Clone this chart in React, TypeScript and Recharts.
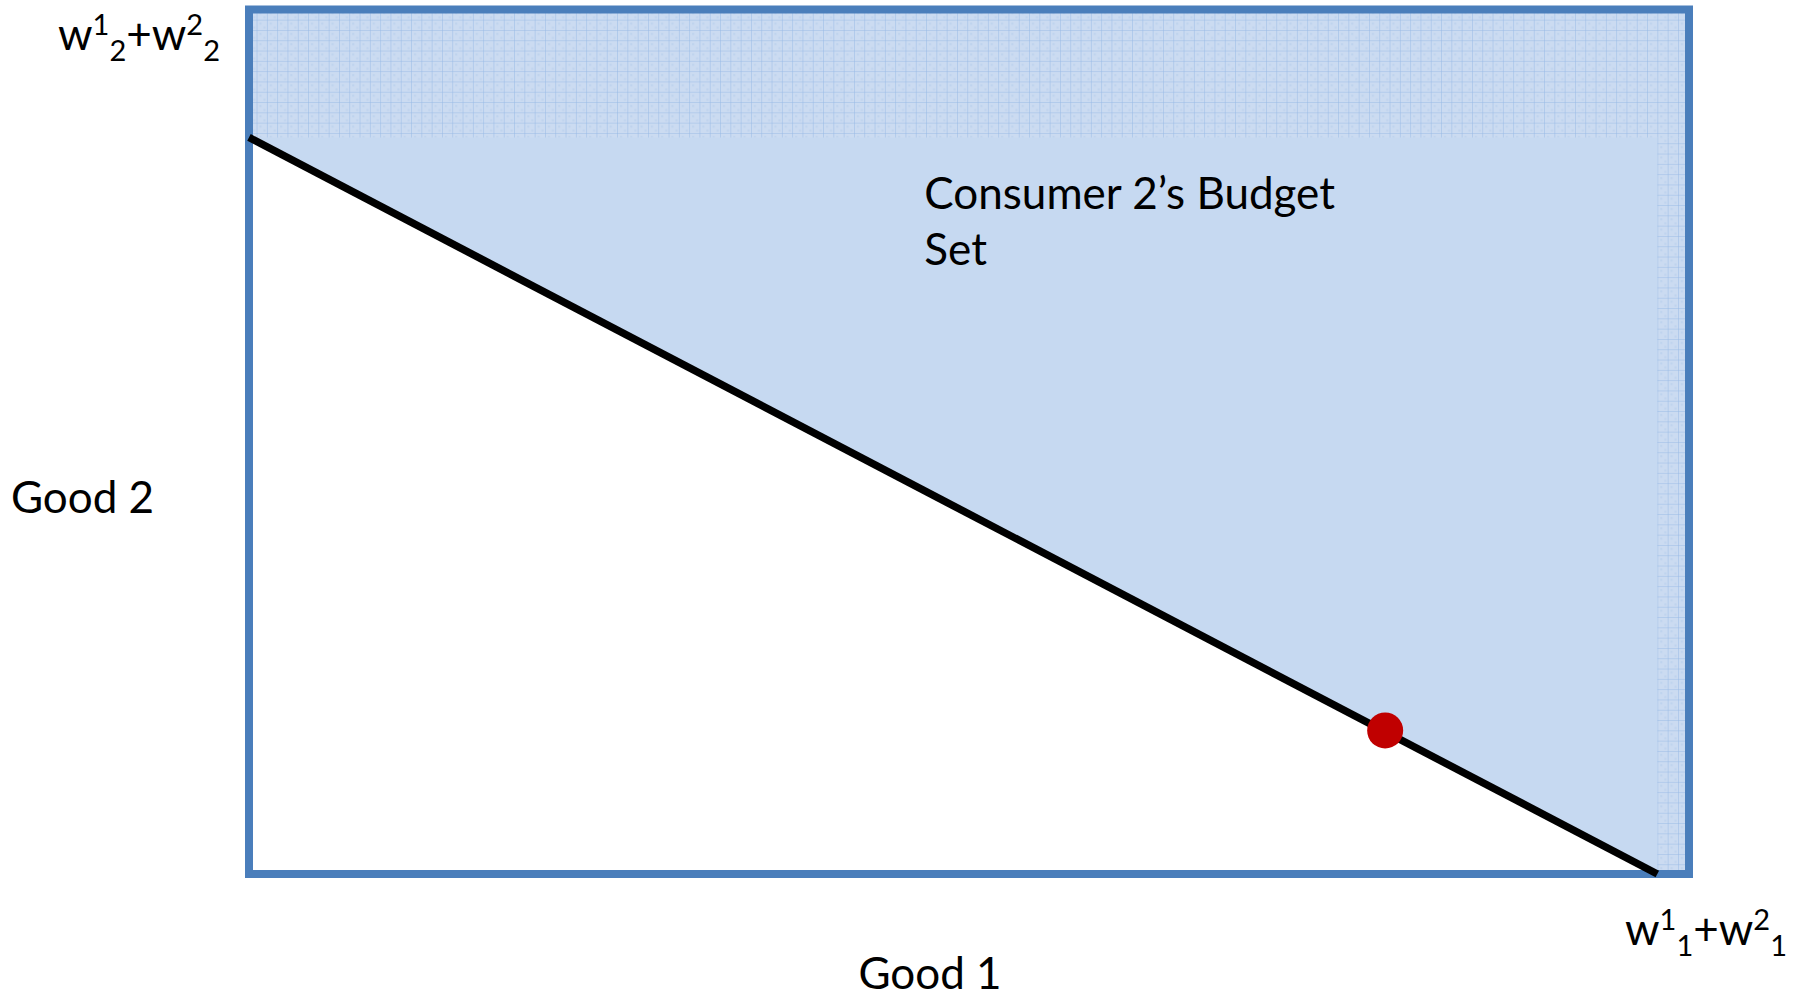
import React from "react";
import {
  Area,
  ComposedChart,
  Line,
  ReferenceArea,
  ReferenceDot,
  XAxis,
  YAxis,
} from "recharts";

const FONT = "Lato, 'Noto Sans', sans-serif";
const BIG = 44;
const SMALL = 29;

// Both axes run from 0 to 100 (the box edges).
const budgetLine = [
  { x: 0, y: 85.2 },
  { x: 97.8, y: 0 },
];
const budgetSet = [
  { x: 0, range: [85.2, 100] },
  { x: 97.8, range: [0, 100] },
  { x: 100, range: [0, 100] },
];
// hatched strips: top band and right edge
const hatchTop = { x1: 0, x2: 100, y1: 85.2, y2: 100 };
const hatchRight = { x1: 97.8, x2: 100, y1: 0, y2: 85.2 };
const endowment = { x: 78.9, y: 16.6 };
const labelAnchor = { x: 46.9, y: 76.9 };

const xTicks = [100];
const yTicks = [100];
const xTickParts = [
  { text: "w", kind: "base" },
  { text: "1", kind: "sup" },
  { text: "1", kind: "sub" },
  { text: "+w", kind: "base" },
  { text: "2", kind: "sup" },
  { text: "1", kind: "sub" },
];
const yTickParts = [
  { text: "w", kind: "base" },
  { text: "1", kind: "sup" },
  { text: "2", kind: "sub" },
  { text: "+w", kind: "base" },
  { text: "2", kind: "sup" },
  { text: "2", kind: "sub" },
];
const setLabel = ["Consumer 2\u2019s Budget", "Set"];

function Scripted({ x, y, parts }: any) {
  let prev = 0;
  return (
    <text x={x} y={y} textAnchor="middle" fontFamily={FONT} fontSize={BIG} fill="#000">
      {parts.map((p: any, i: number) => {
        const shift = p.kind === "sup" ? -15 : p.kind === "sub" ? 11 : 0;
        const dy = shift - prev;
        prev = shift;
        return (
          <tspan key={i} dy={dy} fontSize={p.kind === "base" ? BIG : SMALL}>
            {p.text}
          </tspan>
        );
      })}
    </text>
  );
}

export default function App() {
  return (
    <div style={{ position: "absolute", left: 0, top: 0, background: "#fff" }}>
      <ComposedChart
        width={1803}
        height={1000}
        margin={{ top: 9.5, right: 114, bottom: 0, left: 0 }}
      >
        <defs>
          <pattern id="grid" width="10.3" height="10.3" patternUnits="userSpaceOnUse">
            <rect width="10.3" height="10.3" fill="#CBDBF1" />
            <rect x="2" y="2" width="2" height="2" fill="#BED3EE" />
            <rect x="6" y="6" width="2" height="2" fill="#BED3EE" />
            <path d="M 10.3 0 V 10.3 M 0 10.3 H 10.3" stroke="#97BAE6" strokeWidth="1" />
          </pattern>
        </defs>
        <XAxis
          type="number"
          dataKey="x"
          domain={[0, 100]}
          ticks={xTicks}
          interval={0}
          axisLine={false}
          tickLine={false}
          tickSize={0}
          tickMargin={0}
          height={126}
          tick={(p: any) => <Scripted x={p.x + 17} y={p.y + 71} parts={xTickParts} />}
          label={{
            content: ({ viewBox }: any) => (
              <text
                x={viewBox.x + viewBox.width / 2 - 39}
                y={viewBox.y + 115}
                textAnchor="middle"
                fontFamily={FONT}
                fontSize={BIG}
                fill="#000"
              >
                Good 1
              </text>
            ),
          }}
        />
        <YAxis
          type="number"
          domain={[0, 100]}
          ticks={yTicks}
          interval={0}
          axisLine={false}
          tickLine={false}
          tickSize={0}
          tickMargin={0}
          width={249}
          tick={(p: any) => <Scripted x={p.x - 110} y={p.y + 40.5} parts={yTickParts} />}
          label={{
            content: ({ viewBox }: any) => (
              <text
                x={viewBox.x + 82.5}
                y={viewBox.y + viewBox.height / 2 + 71}
                textAnchor="middle"
                fontFamily={FONT}
                fontSize={BIG}
                fill="#000"
              >
                Good 2
              </text>
            ),
          }}
        />
        <Area
          data={budgetSet}
          dataKey="range"
          type="linear"
          fill="#C6D9F1"
          fillOpacity={1}
          stroke="none"
          isAnimationActive={false}
        />
        <ReferenceArea {...hatchTop} fill="url(#grid)" fillOpacity={1} stroke="none" />
        <ReferenceArea {...hatchRight} fill="url(#grid)" fillOpacity={1} stroke="none" />
        <Line
          data={budgetLine}
          dataKey="y"
          type="linear"
          stroke="#000"
          strokeWidth={7.5}
          dot={false}
          activeDot={false}
          isAnimationActive={false}
        />
        <ReferenceDot
          x={endowment.x}
          y={endowment.y}
          r={18}
          fill="#C00000"
          stroke="none"
        />
        <ReferenceDot
          x={labelAnchor.x}
          y={labelAnchor.y}
          r={0}
          fill="none"
          stroke="none"
          label={{
            content: ({ viewBox }: any) => (
              <text x={viewBox.x} y={viewBox.y} fontFamily={FONT} fontSize={BIG} fill="#000">
                {setLabel.map((line, i) => (
                  <tspan key={i} x={viewBox.x} dy={i === 0 ? 0 : 56}>
                    {line}
                  </tspan>
                ))}
              </text>
            ),
          }}
        />
        <ReferenceArea
          x1={0}
          x2={100}
          y1={0}
          y2={100}
          fill="none"
          stroke="#4A7EBB"
          strokeWidth={8}
        />
      </ComposedChart>
    </div>
  );
}
